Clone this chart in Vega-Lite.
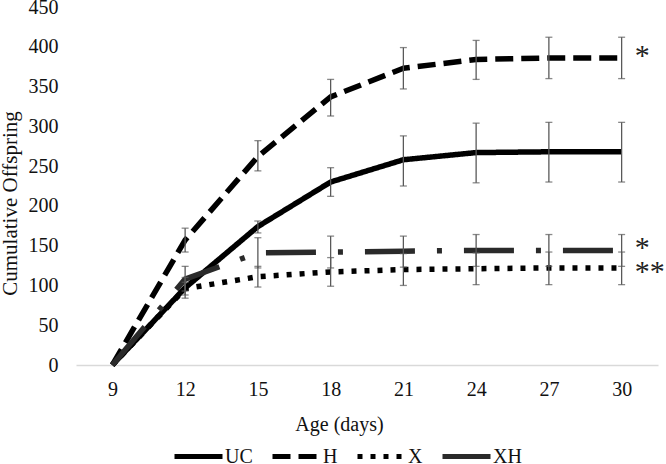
{
  "$schema": "https://vega.github.io/schema/vega-lite/v6.json",
  "width": 582,
  "height": 358,
  "autosize": {"type": "none"},
  "padding": {"left": 76, "top": 7, "right": 8, "bottom": 99},
  "config": {
    "view": {"stroke": null},
    "font": "Liberation Serif",
    "axis": {"labelFont": "Liberation Serif", "titleFont": "Liberation Serif", "labelColor": "#111", "titleColor": "#111", "titleFontWeight": "normal", "grid": false, "ticks": false, "labelOverlap": false},
    "axisX": {"labelFontSize": 20, "titleFontSize": 20, "labelPadding": 14, "titlePadding": 15, "titleX": 263, "domainColor": "#d9d9d9", "domainWidth": 1.5, "labelOverlap": false},
    "axisY": {"values": [0, 50, 100, 150, 200, 250, 300, 350, 400, 450], "labelFontSize": 20, "titleFontSize": 21, "labelPadding": 18, "domain": false, "titleX": -60, "titleY": 196, "titleBaseline": "alphabetic", "titleAngle": -90, "labelOverlap": false}
  },
  "data": {"values": [
    {"group": "UC", "age": 9, "mean": 0, "lo": null, "hi": null},
    {"group": "UC", "age": 12, "mean": 97, "lo": 84, "hi": 110},
    {"group": "UC", "age": 15, "mean": 174, "lo": 166, "hi": 181},
    {"group": "UC", "age": 18, "mean": 230, "lo": 212, "hi": 248},
    {"group": "UC", "age": 21, "mean": 258, "lo": 225, "hi": 288},
    {"group": "UC", "age": 24, "mean": 267, "lo": 229, "hi": 304},
    {"group": "UC", "age": 27, "mean": 268, "lo": 230, "hi": 305},
    {"group": "UC", "age": 30, "mean": 268, "lo": 230, "hi": 305},
    {"group": "H", "age": 9, "mean": 0, "lo": null, "hi": null},
    {"group": "H", "age": 12, "mean": 157, "lo": 142, "hi": 172},
    {"group": "H", "age": 15, "mean": 262, "lo": 244, "hi": 282},
    {"group": "H", "age": 18, "mean": 337, "lo": 313, "hi": 359},
    {"group": "H", "age": 21, "mean": 373, "lo": 347, "hi": 399},
    {"group": "H", "age": 24, "mean": 384, "lo": 359, "hi": 408},
    {"group": "H", "age": 27, "mean": 386, "lo": 360, "hi": 412},
    {"group": "H", "age": 30, "mean": 386, "lo": 360, "hi": 412},
    {"group": "X", "age": 9, "mean": 0, "lo": null, "hi": null},
    {"group": "X", "age": 12, "mean": 96, "lo": 88, "hi": 104},
    {"group": "X", "age": 15, "mean": 111, "lo": 98, "hi": 124},
    {"group": "X", "age": 18, "mean": 117, "lo": 99, "hi": 135},
    {"group": "X", "age": 21, "mean": 120, "lo": 100, "hi": 140},
    {"group": "X", "age": 24, "mean": 121, "lo": 101, "hi": 141},
    {"group": "X", "age": 27, "mean": 122, "lo": 101, "hi": 142},
    {"group": "X", "age": 30, "mean": 122, "lo": 101, "hi": 142},
    {"group": "XH", "age": 9, "mean": 0, "lo": null, "hi": null},
    {"group": "XH", "age": 12, "mean": 108, "lo": 93, "hi": 124},
    {"group": "XH", "age": 15, "mean": 141, "lo": 122, "hi": 160},
    {"group": "XH", "age": 18, "mean": 142, "lo": 122, "hi": 162},
    {"group": "XH", "age": 21, "mean": 143, "lo": 123, "hi": 162},
    {"group": "XH", "age": 24, "mean": 144, "lo": 124, "hi": 164},
    {"group": "XH", "age": 27, "mean": 144, "lo": 124, "hi": 164},
    {"group": "XH", "age": 30, "mean": 144, "lo": 124, "hi": 164}
  ]},
  "layer": [
    {
      "mark": {"type": "line", "strokeWidth": 5.5, "strokeJoin": "round"},
      "encoding": {
        "x": {"field": "age", "type": "quantitative", "scale": {"domain": [7.5, 31.5], "nice": false, "zero": false}, "title": "Age (days)", "axis": {"values": [9, 12, 15, 18, 21, 24, 27, 30]}},
        "y": {"field": "mean", "type": "quantitative", "scale": {"domain": [0, 450], "nice": false}, "title": "Cumulative Offspring"},
        "color": {"field": "group", "type": "nominal", "scale": {"domain": ["UC", "H", "X", "XH"], "range": ["#000000", "#000000", "#000000", "#2a2a2a"]},
                  "legend": {"title": null, "orient": "none", "direction": "horizontal", "legendX": 96, "legendY": 423, "padding": 0, "gridAlign": "none", "symbolType": "stroke", "symbolSize": 2304, "symbolStrokeWidth": 5, "labelFontSize": 20, "labelFont": "Liberation Serif", "labelColor": "#111", "labelOffset": 0, "columnPadding": 9}},
        "strokeDash": {"field": "group", "type": "nominal", "scale": {"domain": ["UC", "H", "X", "XH"], "range": [[1, 0], [18, 8], [5, 8], [50, 22, 5, 22]]},
                  "legend": {"title": null, "orient": "none", "direction": "horizontal", "legendX": 96, "legendY": 423, "padding": 0, "gridAlign": "none", "symbolType": "stroke", "symbolSize": 2304, "symbolStrokeWidth": 5, "labelFontSize": 20, "labelFont": "Liberation Serif", "labelColor": "#111", "labelOffset": 0, "columnPadding": 9}}
      }
    },
    {
      "transform": [{"filter": "datum.age > 9"}],
      "mark": {"type": "rule", "color": "#595959", "strokeWidth": 1.3},
      "encoding": {
        "x": {"field": "age", "type": "quantitative", "title": "Age (days)"},
        "y": {"field": "lo", "type": "quantitative", "title": "Cumulative Offspring"},
        "y2": {"field": "hi"}
      }
    },
    {
      "transform": [{"filter": "datum.age > 9"}],
      "mark": {"type": "tick", "orient": "horizontal", "color": "#595959", "size": 7, "thickness": 1.3},
      "encoding": {
        "x": {"field": "age", "type": "quantitative", "title": "Age (days)"},
        "y": {"field": "lo", "type": "quantitative", "title": "Cumulative Offspring"}
      }
    },
    {
      "transform": [{"filter": "datum.age > 9"}],
      "mark": {"type": "tick", "orient": "horizontal", "color": "#595959", "size": 7, "thickness": 1.3},
      "encoding": {
        "x": {"field": "age", "type": "quantitative", "title": "Age (days)"},
        "y": {"field": "hi", "type": "quantitative", "title": "Cumulative Offspring"}
      }
    },
    {
      "data": {"values": [
        {"group": "H", "age": 30, "mean": 386, "sig": "*"},
        {"group": "XH", "age": 30, "mean": 144, "sig": "*"}
      ]},
      "mark": {"type": "text", "align": "left", "baseline": "middle", "dx": 13, "dy": -2, "fontSize": 30, "font": "Liberation Serif", "color": "#222"},
      "encoding": {
        "x": {"field": "age", "type": "quantitative", "title": "Age (days)"},
        "y": {"field": "mean", "type": "quantitative", "title": "Cumulative Offspring"},
        "text": {"field": "sig"}
      }
    },
    {
      "data": {"values": [
        {"group": "X", "age": 30, "mean": 122, "sig": "**"}
      ]},
      "mark": {"type": "text", "align": "left", "baseline": "middle", "dx": 13, "dy": 4, "fontSize": 30, "font": "Liberation Serif", "color": "#222"},
      "encoding": {
        "x": {"field": "age", "type": "quantitative", "title": "Age (days)"},
        "y": {"field": "mean", "type": "quantitative", "title": "Cumulative Offspring"},
        "text": {"field": "sig"}
      }
    }
  ]
}
